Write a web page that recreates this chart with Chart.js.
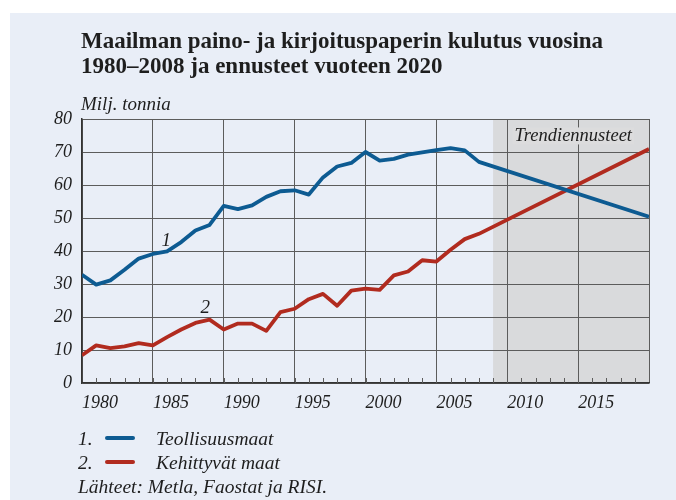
<!DOCTYPE html>
<html><head><meta charset="utf-8">
<script src="https://cdn.jsdelivr.net/npm/chart.js@4.4.1/dist/chart.umd.min.js"></script>
<style>
html,body{margin:0;padding:0;background:#fff;width:676px;height:500px;overflow:hidden}
#panel{position:absolute;left:10px;top:13px;width:666px;height:487px;background:#e9eef7}
#wrap{position:absolute;left:0;top:0;width:676px;height:500px}
.t{position:absolute;font-family:"Liberation Serif",serif;color:#1e1e1e;white-space:nowrap}
#title{left:81px;top:28px;font-weight:bold;font-size:23px;line-height:25px}
.it{font-style:italic;font-size:19.5px;line-height:25px}
.seg{position:absolute;left:105px;width:30px;height:4px;border-radius:2px}
</style>
</head><body>
<div id="panel"></div>
<div id="wrap"><canvas id="c" width="676" height="500"></canvas></div>
<div class="t" id="title">Maailman paino- ja kirjoituspaperin kulutus vuosina<br>1980–2008 ja ennusteet vuoteen 2020</div>
<div class="t it" style="left:81px;top:91px;font-size:19px">Milj. tonnia</div>
<div class="t it" style="left:78px;top:426px">1.</div>
<div class="seg" style="top:436px;background:#0d5b92"></div>
<div class="t it" style="left:156px;top:426px">Teollisuusmaat</div>
<div class="t it" style="left:78px;top:450px">2.</div>
<div class="seg" style="top:460px;background:#b12b1f"></div>
<div class="t it" style="left:156px;top:450px">Kehittyvät maat</div>
<div class="t it" style="left:78px;top:474px">Lähteet: Metla, Faostat ja RISI.</div>
<script>
const years = [1980,1981,1982,1983,1984,1985,1986,1987,1988,1989,1990,1991,1992,1993,1994,1995,1996,1997,1998,1999,2000,2001,2002,2003,2004,2005,2006,2007,2008];
const teollisuusmaat = [32.8,29.8,31.1,34.3,37.7,39.1,39.9,42.7,46.2,47.9,53.7,52.7,53.8,56.4,58.1,58.4,57.1,62.3,65.6,66.7,70.0,67.4,67.9,69.2,69.9,70.6,71.2,70.5,67.0];
const kehittyvatMaat = [8.4,11.4,10.6,11.1,12.1,11.4,13.9,16.2,18.2,19.2,16.2,18.0,18.0,15.8,21.5,22.5,25.4,27.0,23.4,28.0,28.6,28.2,32.6,33.8,37.2,36.8,40.4,43.6,45.2];
const trendYear = 2020;
const teollisuusTrend = 50.4;
const kehittyvatTrend = 70.9;
const forecastStart = 2009;
const xTickLabels = [1980,1985,1990,1995,2000,2005,2010,2015];
const xGridValues = [1980,1985,1990,1995,2000,2005,2010,2015,2020];
const yTicks = [0,10,20,30,40,50,60,70,80];
const seriesLabels = ['1','2'];
const forecastLabel = 'Trendiennusteet';

const FONT = 'Liberation Serif';
const blue = '#0d5b92', red = '#b12b1f', gridC = '#5c5c5c', textC = '#1e1e1e';

function pts(vals, trend){
  return years.map((x,i)=>({x, y: vals[i]})).concat([{x: trendYear, y: trend}]);
}

const decor = {
  id: 'decor',
  beforeDraw(chart){
    const {ctx, chartArea:a, scales:{x}} = chart;
    const xs = x.getPixelForValue(forecastStart);
    ctx.save();
    ctx.fillStyle = '#d9dadc';
    ctx.fillRect(xs, a.top, a.right - xs, a.bottom - a.top);
    ctx.restore();
  },
  beforeDatasetsDraw(chart){
    const {ctx, chartArea:a, scales:{x}} = chart;
    ctx.save();
    ctx.strokeStyle = gridC; ctx.lineWidth = 1;
    ctx.beginPath();
    for (let yr = x.min + 1; yr < x.max; yr++){
      const px = Math.round(x.getPixelForValue(yr)) + 0.5;
      ctx.moveTo(px, a.bottom); ctx.lineTo(px, a.bottom - 5);
    }
    ctx.stroke();
    ctx.font = 'italic 18.5px "' + FONT + '"';
    const tw = ctx.measureText(forecastLabel).width;
    const rx = x.getPixelForValue(2018.8);
    const yy = chart.scales.y.getPixelForValue(73.2);
    ctx.fillStyle = '#dcdcdd';
    ctx.fillRect(rx - tw - 2, yy - 14, tw + 4, 17);
    ctx.fillStyle = textC;
    ctx.textAlign = 'right'; ctx.textBaseline = 'alphabetic';
    ctx.fillText(forecastLabel, rx, yy);
    ctx.restore();
  },
  afterDatasetsDraw(chart){
    const {ctx, scales:{x, y}} = chart;
    ctx.save();
    ctx.font = 'italic 19px "' + FONT + '"';
    ctx.fillStyle = textC; ctx.textAlign = 'center'; ctx.textBaseline = 'alphabetic';
    ctx.fillText(seriesLabels[0], x.getPixelForValue(1985.95), y.getPixelForValue(41.4));
    ctx.fillText(seriesLabels[1], x.getPixelForValue(1988.7), y.getPixelForValue(21.2));
    ctx.restore();
  }
};

new Chart(document.getElementById('c'), {
  type: 'line',
  data: {
    datasets: [
      {label: 'Teollisuusmaat', data: pts(teollisuusmaat, teollisuusTrend), borderColor: blue, borderWidth: 3.8, pointRadius: 0, tension: 0, borderJoinStyle: 'round', borderCapStyle: 'butt', fill: false},
      {label: 'Kehittyvät maat', data: pts(kehittyvatMaat, kehittyvatTrend), borderColor: red, borderWidth: 3.8, pointRadius: 0, tension: 0, borderJoinStyle: 'round', borderCapStyle: 'butt', fill: false}
    ]
  },
  options: {
    responsive: false, animation: false,
    layout: {padding: {left: 0, top: 119, right: 27, bottom: 77}},
    plugins: {legend: {display: false}, tooltip: {enabled: false}, title: {display: false}},
    scales: {
      x: {
        type: 'linear', min: 1980, max: 2020,
        afterBuildTicks: s => { s.ticks = xGridValues.map(v => ({value: v})); },
        afterFit: s => { s.height = 40; },
        ticks: {
          autoSkip: false, maxRotation: 0, align: 'start', padding: 9,
          color: textC, font: {family: FONT, size: 18, style: 'italic'},
          callback: v => xTickLabels.includes(v) ? String(v) : ''
        },
        grid: {color: gridC, lineWidth: 1, drawTicks: false},
        border: {color: '#333', width: 1.5}
      },
      y: {
        min: 0, max: 80,
        afterBuildTicks: s => { s.ticks = yTicks.map(v => ({value: v})); },
        afterFit: s => { s.width = 82; },
        ticks: {padding: 10, color: textC, font: {family: FONT, size: 18, style: 'italic'}},
        grid: {color: gridC, lineWidth: 1, drawTicks: false},
        border: {color: '#333', width: 1.5}
      }
    }
  },
  plugins: [decor]
});
</script>
</body></html>
